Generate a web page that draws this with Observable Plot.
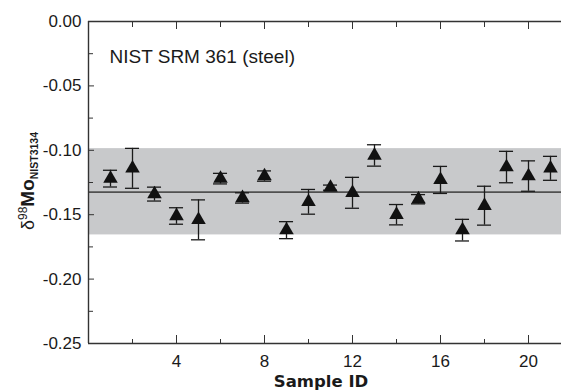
<!DOCTYPE html>
<html>
<head>
<meta charset="utf-8">
<script src="https://cdn.jsdelivr.net/npm/d3@7"></script>
<script src="https://cdn.jsdelivr.net/npm/@observablehq/plot@0.6"></script>
<style>
  html, body { margin: 0; padding: 0; background: #fff; }
  #chart { width: 561px; height: 390px; }
</style>
</head>
<body>
<div id="chart"></div>
<script>
// ---- data ----
const sampleIds = [1, 2, 3, 4, 5, 6, 7, 8, 9, 10, 11, 12, 13, 14, 15, 16, 17, 18, 19, 20, 21];
const deltaValues = [-0.122, -0.114, -0.134, -0.151, -0.154, -0.122, -0.137, -0.120, -0.162, -0.140,
                     -0.129, -0.133, -0.104, -0.150, -0.138, -0.123, -0.162, -0.143, -0.113, -0.120, -0.114];
const errorValues = [0.0065, 0.0155, 0.0054, 0.0064, 0.0155, 0.0041, 0.0040, 0.0040, 0.0066, 0.0096,
                     0.0020, 0.0120, 0.0083, 0.0079, 0.0036, 0.0105, 0.0084, 0.0151, 0.0122, 0.0118, 0.0093];
const meanValue = -0.1325;
const bandRange = [-0.1657, -0.0987];
const xMajorTicks = [4, 8, 12, 16, 20];
const xMinorTicks = [2, 6, 10, 14, 18];
const yMajorTicks = [0, -0.05, -0.10, -0.15, -0.20, -0.25];
const yMinorTicks = [-0.025, -0.075, -0.125, -0.175, -0.225];
const annotation = "NIST SRM 361 (steel)";
const xLabel = "Sample ID";

const rows = sampleIds.map((id, i) => ({id, v: deltaValues[i], e: errorValues[i]}));
const capHalf = 0.32; // cap half-width in sample units

const ink = "#1a1a1a";
const plot = Plot.plot({
  width: 561,
  height: 390,
  marginLeft: 88,
  marginRight: 0,
  marginTop: 21,
  marginBottom: 47,
  style: {fontFamily: "'Liberation Sans', Arial, sans-serif", fontSize: "17px", color: ink, background: "#fff"},
  x: {domain: [0, 21.5]},
  y: {domain: [-0.25, 0]},
  marks: [
    Plot.rectY([bandRange], {x1: 0, x2: 21.5, y1: d => d[0], y2: d => d[1], fill: "#c8c9cb"}),
    Plot.ruleY([meanValue], {stroke: "#505050", strokeWidth: 1.6}),
    Plot.ruleX(rows, {x: "id", y1: d => d.v - d.e, y2: d => d.v + d.e, stroke: ink, strokeWidth: 1.3}),
    Plot.ruleY(rows, {y: d => d.v + d.e, x1: d => d.id - capHalf, x2: d => d.id + capHalf, stroke: ink, strokeWidth: 1.3}),
    Plot.ruleY(rows, {y: d => d.v - d.e, x1: d => d.id - capHalf, x2: d => d.id + capHalf, stroke: ink, strokeWidth: 1.3}),
    Plot.dot(rows, {x: "id", y: "v", symbol: "triangle", r: 5.4, fill: "#111", stroke: "none"}),
    // frame
    Plot.ruleX([0], {stroke: "#333", strokeWidth: 1.4}),
    Plot.ruleY([-0.25, 0], {stroke: "#333", strokeWidth: 1.4}),
    // axes with inward ticks
    Plot.axisX(xMajorTicks, {anchor: "bottom", tickSize: -8, tickPadding: 19, tickFormat: d => String(d), label: null, stroke: "#333"}),
    Plot.axisX(xMinorTicks, {anchor: "bottom", tickSize: -4, tickFormat: () => "", label: null, stroke: "#333"}),
    Plot.axisX(xMajorTicks, {anchor: "top", tickSize: -7, tickFormat: () => "", label: null, stroke: "#333"}),
    Plot.axisX(xMinorTicks, {anchor: "top", tickSize: -5, tickFormat: () => "", label: null, stroke: "#333"}),
    Plot.axisY(yMajorTicks, {anchor: "left", tickSize: -6, tickPadding: 13, tickFormat: d => d.toFixed(2), label: null, stroke: "#333"}),
    Plot.axisY(yMinorTicks, {anchor: "left", tickSize: -5, tickFormat: () => "", label: null, stroke: "#333"}),
    Plot.text([annotation], {frameAnchor: "top-left", dx: 21, dy: 35, text: d => d, textAnchor: "start", lineAnchor: "middle", fontSize: 19, fill: ink}),
    Plot.text([xLabel], {frameAnchor: "bottom", dx: -4, dy: 38, text: d => d, lineAnchor: "middle", fontSize: 16.5, fontWeight: "bold", fontFamily: "'DejaVu Sans', sans-serif", fill: ink})
  ]
});
document.getElementById("chart").appendChild(plot);

// y-axis label with super/subscripts
const svg = d3.select(plot);
const yl = svg.append("text")
  .attr("transform", "translate(34,181) rotate(-90)")
  .attr("text-anchor", "middle")
  .attr("fill", ink)
  .style("font-family", "'Liberation Sans', Arial, sans-serif");
yl.append("tspan").attr("font-size", 18).text("δ");
yl.append("tspan").attr("font-size", 12).attr("dy", -7).text("98");
yl.append("tspan").attr("font-size", 19).attr("font-weight", "bold").attr("dy", 7).text("Mo");
yl.append("tspan").attr("font-size", 10.5).attr("font-weight", "bold").attr("dy", 4).text("NIST3134");
</script>
</body>
</html>
